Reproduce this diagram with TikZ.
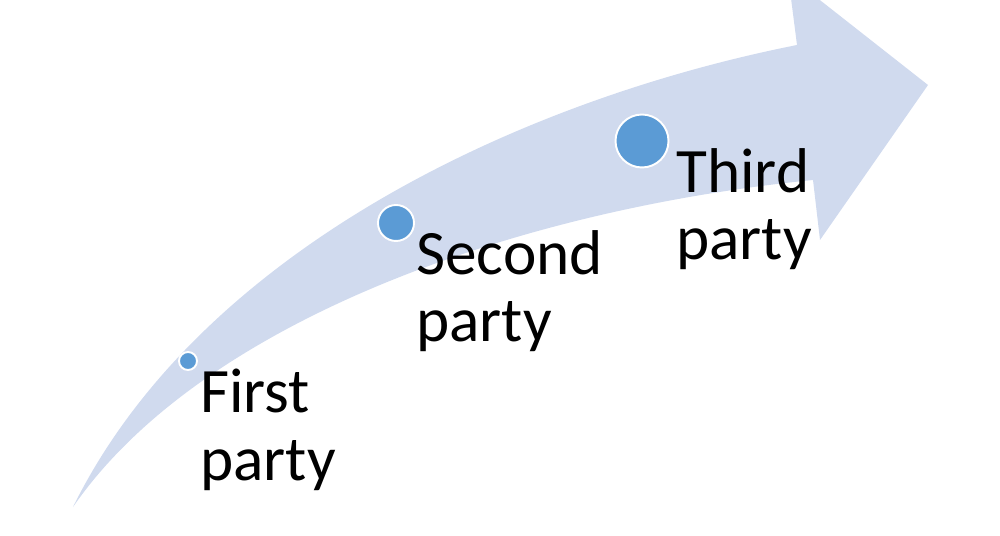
\documentclass[tikz,border=0pt]{standalone}
\usepackage{fontspec}
\setmainfont{Carlito}
\usetikzlibrary{positioning}
\definecolor{arrowfill}{RGB}{208,218,238}
\definecolor{dotblue}{RGB}{91,155,213}

\begin{document}
\begin{tikzpicture}[x=0.02cm,y=-0.02cm,
  dot/.style={fill=dotblue,draw=white,line width=1.1pt},
  party/.style={draw=none,align=left,anchor=base west,inner sep=0pt,
    font=\fontsize{36}{38.6}\selectfont}]

\useasboundingbox (0,0) rectangle (1000,536);
\clip (0,0) rectangle (1000,536);

\coordinate (tail) at (73,507);
\coordinate (neck) at (797,45);
\coordinate (headtop) at (788,-25);
\coordinate (tip) at (928,85);
\coordinate (headbot) at (820,240);
\coordinate (throat) at (813,180);

% the curved arrow
\fill[arrowfill] (tail) .. controls (200,250) and (520,100) .. (neck)
  -- (headtop) -- (tip) -- (headbot) -- (throat)
  .. controls (513,210) and (200,323) .. (tail) -- cycle;

\coordinate (d1) at (188,361);
\coordinate (d2) at (396,223);
\coordinate (d3) at (642,141);

\draw[dot] (d1) circle (0.18cm);
\draw[dot] (d2) circle (0.36cm);
\draw[dot] (d3) circle (0.53cm);

% base anchor sits on the last line
\node[party] (first) at (200,480) {First\\party};
\node[party] (second) at (416,342) {Second\\party};
\node[party] (third) at (676,260) {Third\\party};

\end{tikzpicture}
\end{document}
